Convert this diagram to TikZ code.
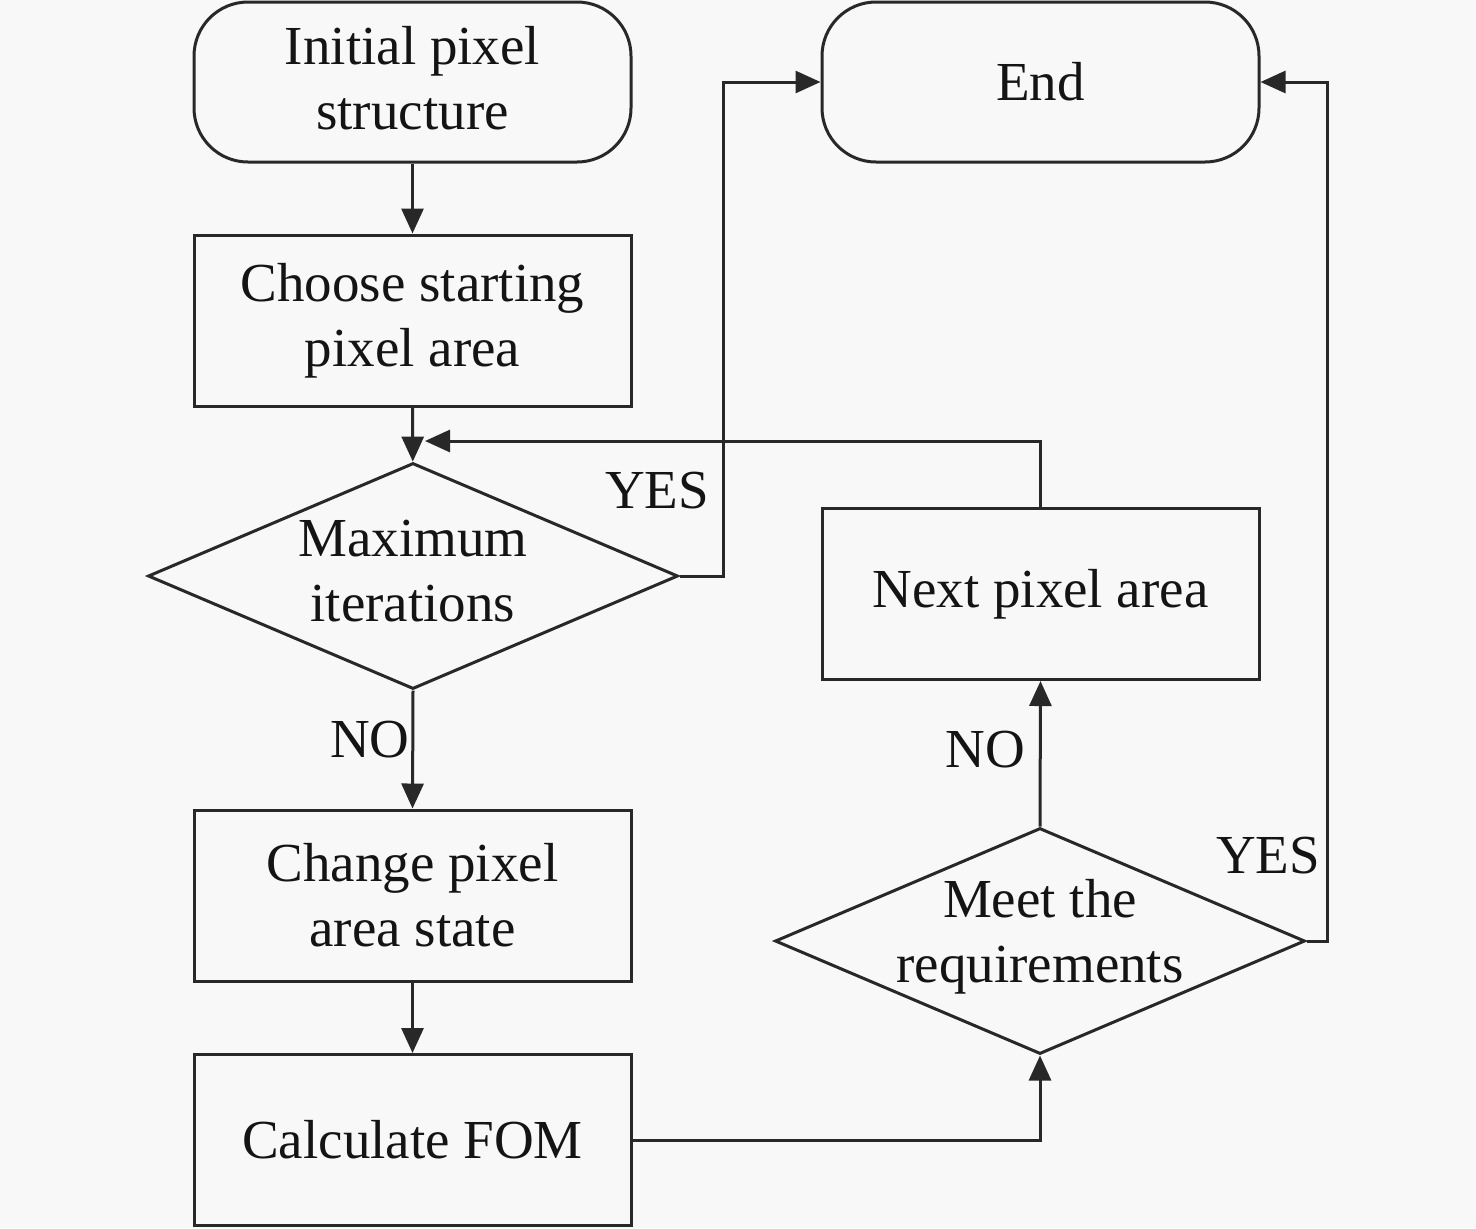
\documentclass[tikz,border=0pt]{standalone}
\usepackage{fontspec}
\setmainfont{Liberation Serif}
\usetikzlibrary{shapes.geometric,arrows.meta}
\definecolor{bg}{RGB}{248,248,248}
\definecolor{ln}{RGB}{40,40,40}
\definecolor{tx}{RGB}{20,20,20}
\begin{document}
\begin{tikzpicture}[x=0.5pt,y=-0.5pt,
  every node/.style={font=\fontsize{27.5pt}{32.5pt}\selectfont, text=tx},
  term/.style={draw=ln, line width=1.5pt, rounded corners=27pt, minimum width=218.5pt, minimum height=80pt, align=center, inner sep=0pt},
  proc/.style={draw=ln, line width=1.5pt, minimum width=218.5pt, minimum height=85.5pt, align=center, inner sep=0pt},
  decision/.style={diamond, draw=ln, line width=1.5pt, minimum width=265pt, minimum height=113pt, inner sep=0pt},
  txt/.style={align=center, inner sep=0pt},
  arr/.style={draw=ln, line width=1.5pt, -{Triangle[length=12.5pt,width=11pt]}},
  lbl/.style={inner sep=0pt}]
\fill[bg] (0,0) rectangle (1476,1228);
\useasboundingbox (0,0) rectangle (1476,1228);

\node[term] (start) at (412.5,82) {};
\node[txt] (startt) at (412.5,78) {Initial pixel\\structure};
\node[term] (endn) at (1040.5,82) {End};
\node[proc] (choose) at (412.5,320.5) {Choose starting\\pixel area};
\node[decision] (d1) at (413,576) {};
\node[txt] (d1t) at (413,571) {Maximum\\iterations};
\node[proc] (change) at (412.5,895.5) {Change pixel\\area state};
\node[proc] (calc) at (412.5,1140) {Calculate FOM};
\node[proc] (next) at (1040.5,594) {Next pixel area};
\node[decision] (d2) at (1040,941) {};
\node[txt] (d2t) at (1040,937) {Meet the\\requirements};
\coordinate (back) at (425,441);

\draw[arr] (start) -- (choose);
\draw[arr] (choose) -- (d1);
\draw[arr] (next.north) |- (back);
\draw[arr] (d1.east) -- ++(44,0) |- (endn.west);
\draw[arr] (d1.south) -- (change.north);
\draw[arr] (change) -- (calc);
\draw[arr] (calc.east) -| (d2.south);
\draw[arr] (d2.north) -- (next.south);
\draw[arr] (d2.east) -- ++(21,0) |- (endn.east);

\node[lbl] (yes1) at (657,491) {YES};
\node[lbl] (no1) at (370,740) {NO};
\node[lbl] (no2) at (985,750) {NO};
\node[lbl] (yes2) at (1268,856) {YES};
\end{tikzpicture}
\end{document}
